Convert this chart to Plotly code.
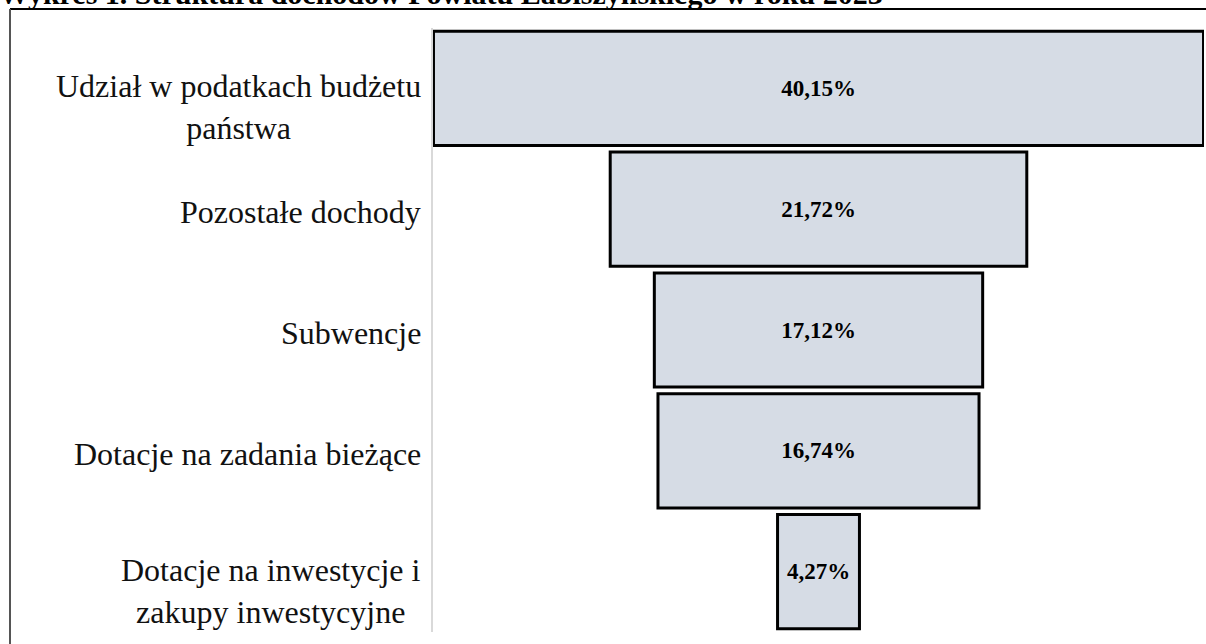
import plotly.graph_objects as go

# data
categories = [
    "Udział w podatkach budżetu państwa",
    "Pozostałe dochody",
    "Subwencje",
    "Dotacje na zadania bieżące",
    "Dotacje na inwestycje i zakupy inwestycyjne",
]
labels = [
    "Udział w podatkach budżetu<br>państwa",
    "Pozostałe dochody",
    "Subwencje",
    "Dotacje na zadania bieżące",
    "Dotacje na inwestycje i<br>zakupy inwestycyjne",
]
values = [40.15, 21.72, 17.12, 16.74, 4.27]
title = "Wykres 1. Struktura dochodów Powiatu Łabiszyńskiego w roku 2023"

W, H = 1206, 644
ML, MR, MT, MB = 433, 2, 28, 12
pw = W - ML - MR
ph = H - MT - MB


def px_x(p):
    # window pixel -> paper x
    return (p - ML) / pw


def px_y(p):
    # window pixel -> paper y
    return (H - MB - p) / ph


serif = "Liberation Serif, Times New Roman, serif"
texts = [f"{v:.2f}".replace(".", ",") + "%" for v in values]

fig = go.Figure(go.Funnel(
    y=categories,
    x=values,
    text=texts,
    textinfo="text",
    textposition="inside",
    insidetextanchor="middle",
    textfont=dict(family=serif, size=23, color="black", weight="bold"),
    marker=dict(color="#d6dce5", line=dict(color="black", width=3)),
    connector=dict(visible=False),
    hoverinfo="x+y",
))

# category labels (centered multi-line, right edge near axis)
for cat, lab in zip(categories, labels):
    two = "<br>" in lab
    fig.add_annotation(
        x=px_x(423), xref="paper", y=cat, yref="y",
        text=lab, showarrow=False, xanchor="right", align="center",
        yanchor="middle", yshift=-19 if two else -3,
        font=dict(family=serif, size=32, color="#111111"),
    )

# title, clipped by the top of the page
fig.add_annotation(
    x=px_x(-3), xref="paper", y=px_y(12), yref="paper",
    text="<b>" + title + "</b>", showarrow=False,
    xanchor="left", yanchor="bottom",
    font=dict(family=serif, size=30, color="black"),
)

# frame lines
fig.add_shape(type="line", xref="paper", yref="paper",
              x0=px_x(10), x1=px_x(1210), y0=px_y(9), y1=px_y(9),
              line=dict(color="black", width=2))
fig.add_shape(type="line", xref="paper", yref="paper",
              x0=px_x(10), x1=px_x(10), y0=px_y(9), y1=px_y(650),
              line=dict(color="#555555", width=2))

fig.update_layout(
    width=W, height=H,
    margin=dict(l=ML, r=MR, t=MT, b=MB),
    paper_bgcolor="white", plot_bgcolor="white",
    showlegend=False,
    funnelgap=0.055,
)
fig.update_xaxes(range=[-20.1, 20.1], visible=False, fixedrange=True)
fig.update_yaxes(showticklabels=False, showgrid=False, showline=True,
                 linecolor="#d9d9d9", linewidth=2, ticks="", fixedrange=True)

# drop the browser's default body margin so the figure fills the window
fig.write_html("out.html", config={"displayModeBar": False},
               post_script="document.body.style.margin='0';")
